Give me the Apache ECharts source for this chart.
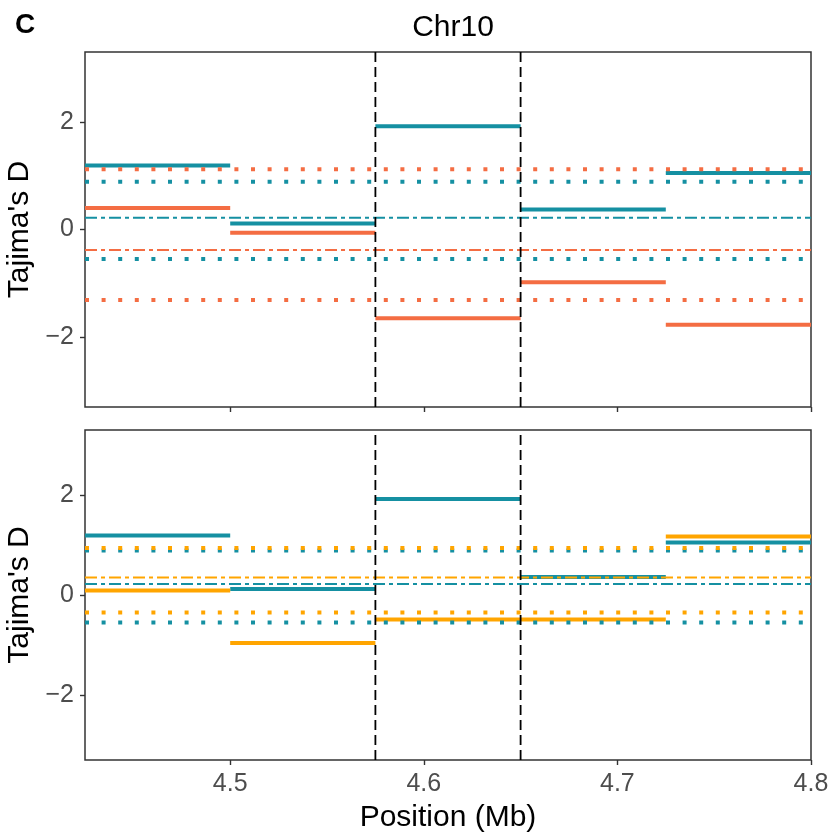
<!DOCTYPE html>
<html>
<head>
<meta charset="utf-8">
<script src="https://cdn.jsdelivr.net/npm/echarts@6/dist/echarts.min.js"></script>
<style>html,body{margin:0;padding:0;background:#fff;}#c{width:835px;height:834px;}</style>
</head>
<body>
<div id="c"></div>
<script>
// ---- data ----
const windowBreaks = [4.425, 4.5, 4.575, 4.65, 4.725, 4.8];
const tealTop = [1.19, 0.11, 1.92, 0.37, 1.05];
const coralTop = [0.40, -0.06, -1.65, -0.98, -1.77];
const tealBottom = [1.19, 0.12, 1.92, 0.36, 1.05];
const yellowBottom = [0.09, -0.96, -0.49, -0.49, 1.17];
const tealTopBounds = [0.89, -0.55];
const tealTopMean = 0.22;
const coralTopBounds = [1.12, -1.31];
const coralTopMean = -0.38;
const tealBottomBounds = [0.89, -0.55];
const tealBottomMean = 0.22;
const yellowBottomBounds = [0.94, -0.35];
const yellowBottomMean = 0.35;
const regionLines = [4.575, 4.65];
const xTicks = [4.5, 4.6, 4.7, 4.8];
const yTicks = [-2, 0, 2];
const yRange = [-3.3, 3.3];

const TEAL = '#1590A2', CORAL = '#F46D43', YELLOW = '#FFA500';
const XMIN = windowBreaks[0], XMAX = windowBreaks[windowBreaks.length - 1];

function steps(vals) {
  const d = [];
  vals.forEach((v, i) => {
    d.push([windowBreaks[i], v], [windowBreaks[i + 1], v], [windowBreaks[i + 1], '-']);
  });
  return d;
}
function lineSer(data, idx, z, style) {
  return {
    type: 'line', xAxisIndex: idx, yAxisIndex: idx, data: data,
    showSymbol: false, symbol: 'none', connectNulls: false, silent: true, z: z,
    lineStyle: style, animation: false
  };
}
function segSeries(vals, color, idx) {
  return lineSer(steps(vals), idx, 2, { color: color, width: 4, cap: 'butt' });
}
function refSeries(bounds, mean, color, idx) {
  const out = bounds.map(v => lineSer([[XMIN, v], [XMAX, v]], idx, 3,
    { color: color, width: 4, type: [4, 12.6], cap: 'butt' }));
  out.push(lineSer([[XMIN, mean], [XMAX, mean]], idx, 3,
    { color: color, width: 2, type: [12, 4, 4, 4], cap: 'butt' }));
  return out;
}
function vlineSeries(idx) {
  return regionLines.map(x => lineSer([[x, yRange[0]], [x, yRange[1]]], idx, 10,
    { color: '#000', width: 1.8, type: [10, 5], cap: 'butt' }));
}
const minusFmt = v => (v < 0 ? '\u2212' + Math.abs(v) : String(v));

function xAxis(idx, showLabels) {
  return {
    type: 'value', gridIndex: idx, min: XMIN, max: XMAX,
    axisLine: { show: false, onZero: false },
    axisTick: { show: true, customValues: xTicks, length: 5, lineStyle: { color: '#333', width: 1.4 } },
    axisLabel: { show: showLabels, customValues: xTicks, formatter: v => v.toFixed(1), color: '#4d4d4d', fontSize: 25, fontFamily: 'Liberation Sans', margin: 12 },
    splitLine: { show: false },
    name: showLabels ? 'Position (Mb)' : '', nameLocation: 'middle', nameGap: 43,
    nameTextStyle: { color: '#000', fontSize: 30, fontFamily: 'Liberation Sans' }
  };
}
function yAxis(idx) {
  return {
    type: 'value', gridIndex: idx, min: yRange[0], max: yRange[1],
    axisLine: { show: false, onZero: false },
    axisTick: { show: true, customValues: yTicks, length: 5, lineStyle: { color: '#333', width: 1.4 } },
    axisLabel: { customValues: yTicks, formatter: minusFmt, color: '#4d4d4d', fontSize: 25, fontFamily: 'Liberation Sans', margin: 11 },
    splitLine: { show: false },
    name: "Tajima's D", nameLocation: 'middle', nameGap: 47,
    nameTextStyle: { color: '#000', fontSize: 30, fontFamily: 'Liberation Sans' }
  };
}

const gridBase = { left: 85, width: 726, show: true, borderColor: '#333', borderWidth: 1.5, backgroundColor: 'transparent', containLabel: false, outerBoundsMode: 'none' };
const chart = echarts.init(document.getElementById('c'), null, { renderer: 'canvas' });
chart.setOption({
  animation: false,
  backgroundColor: '#fff',
  title: [
    { text: 'Chr10', left: 448, top: 8, textAlign: 'center', textStyle: { fontSize: 30, fontWeight: 'normal', color: '#000', fontFamily: 'Liberation Sans' } },
    { text: 'C', left: 10, top: 6, textStyle: { fontSize: 28, fontWeight: 'bold', color: '#000', fontFamily: 'Liberation Sans' } }
  ],
  grid: [
    Object.assign({}, gridBase, { top: 52, height: 355 }),
    Object.assign({}, gridBase, { top: 430, height: 330 })
  ],
  xAxis: [xAxis(0, false), xAxis(1, true)],
  yAxis: [yAxis(0), yAxis(1)],
  series: [].concat(
    segSeries(tealTop, TEAL, 0),
    segSeries(coralTop, CORAL, 0),
    refSeries(tealTopBounds, tealTopMean, TEAL, 0),
    refSeries(coralTopBounds, coralTopMean, CORAL, 0),
    vlineSeries(0),
    segSeries(tealBottom, TEAL, 1),
    segSeries(yellowBottom, YELLOW, 1),
    refSeries(tealBottomBounds, tealBottomMean, TEAL, 1),
    refSeries(yellowBottomBounds, yellowBottomMean, YELLOW, 1),
    vlineSeries(1)
  )
});
</script>
</body>
</html>
